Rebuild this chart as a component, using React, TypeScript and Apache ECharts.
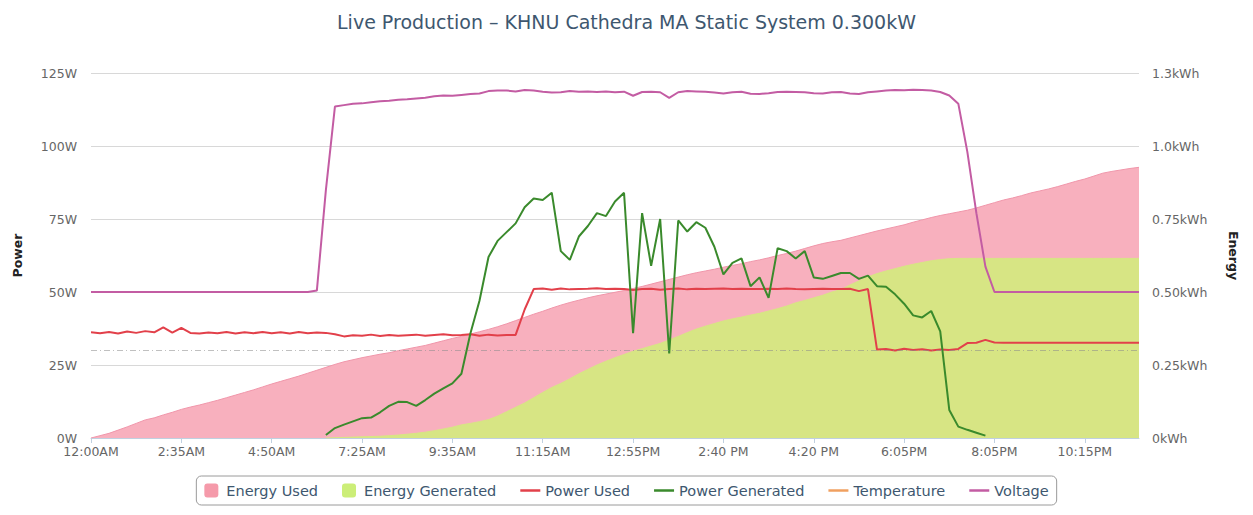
import React, { useEffect, useRef } from 'react';
import * as echarts from 'echarts';

const titleText = 'Live Production \u2013 KHNU Cathedra MA Static System 0.300kW';

const xTickLabels = ['12:00AM', '2:35AM', '4:50AM', '7:25AM', '9:35AM', '11:15AM', '12:55PM', '2:40 PM', '4:20 PM', '6:05PM', '8:05PM', '10:15PM'];
const pointsPerTick = 10;

const powerTickLabels = ['0W', '25W', '50W', '75W', '100W', '125W'];
const energyTickLabels = ['0kWh', '0.25kWh', '0.50kWh', '0.75kWh', '1.0kWh', '1.3kWh'];

const referenceLevel = 30;

const energyUsed = [
  0.0, 0.008, 0.016, 0.027, 0.038, 0.05, 0.062, 0.069, 0.079, 0.088,
  0.098, 0.106, 0.113, 0.121, 0.129, 0.138, 0.147, 0.156, 0.165, 0.175,
  0.185, 0.194, 0.203, 0.212, 0.222, 0.232, 0.242, 0.252, 0.261, 0.268,
  0.275, 0.281, 0.287, 0.292, 0.299, 0.305, 0.311, 0.317, 0.325, 0.333,
  0.341, 0.348, 0.356, 0.364, 0.372, 0.381, 0.391, 0.402, 0.413, 0.424,
  0.434, 0.445, 0.455, 0.464, 0.472, 0.48, 0.487, 0.493, 0.499, 0.505,
  0.512, 0.519, 0.527, 0.535, 0.543, 0.551, 0.559, 0.566, 0.572, 0.578,
  0.585, 0.591, 0.597, 0.604, 0.61, 0.617, 0.625, 0.632, 0.64, 0.649,
  0.658, 0.666, 0.672, 0.677, 0.685, 0.693, 0.701, 0.709, 0.716, 0.723,
  0.73, 0.739, 0.747, 0.755, 0.762, 0.768, 0.774, 0.78, 0.788, 0.797,
  0.806, 0.815, 0.822, 0.83, 0.839, 0.846, 0.853, 0.861, 0.87, 0.879,
  0.887, 0.897, 0.907, 0.913, 0.918, 0.923, 0.927,
];

const energyGenerated = [
  null, null, null, null, null, null, null, null, null, null,
  null, null, null, null, null, null, null, null, null, null,
  null, null, null, null, null, null, 0.0, 0.001, 0.002, 0.003,
  0.004, 0.005, 0.006, 0.008, 0.01, 0.013, 0.016, 0.02, 0.025, 0.031,
  0.037, 0.045, 0.05, 0.056, 0.063, 0.075, 0.09, 0.105, 0.12, 0.138,
  0.156, 0.173, 0.187, 0.203, 0.22, 0.235, 0.25, 0.263, 0.275, 0.286,
  0.297, 0.306, 0.315, 0.324, 0.336, 0.348, 0.361, 0.373, 0.383, 0.392,
  0.401, 0.408, 0.414, 0.421, 0.427, 0.435, 0.443, 0.452, 0.463, 0.471,
  0.48, 0.489, 0.5, 0.508, 0.524, 0.538, 0.552, 0.563, 0.572, 0.58,
  0.588, 0.595, 0.601, 0.607, 0.611, 0.614, 0.615, 0.615, 0.615, 0.615,
  0.615, 0.615, 0.615, 0.615, 0.615, 0.615, 0.615, 0.615, 0.615, 0.615,
  0.615, 0.615, 0.615, 0.615, 0.615, 0.615, 0.615,
];

const powerUsed = [
  36.2, 35.9, 36.3, 35.8, 36.5, 36.0, 36.6, 36.2, 37.9, 36.1,
  37.7, 36.0, 35.8, 36.1, 35.9, 36.3, 35.8, 36.2, 35.9, 36.3,
  35.9, 36.2, 35.8, 36.3, 35.9, 36.1, 36.0, 35.5, 34.8, 35.2,
  35.0, 35.4, 34.9, 35.3, 35.0, 35.2, 35.4, 35.0, 35.3, 35.5,
  35.2, 35.3, 35.5, 35.0, 35.4, 35.1, 35.3, 35.3, 44.0, 51.0,
  51.2, 50.8, 51.2, 50.9, 51.0, 51.1, 51.3, 51.0, 51.1, 51.0,
  50.7, 51.0, 51.1, 50.8, 51.0, 51.2, 50.9, 51.1, 51.0, 51.1,
  51.2, 51.0, 51.1, 51.0, 51.0, 51.1, 51.0, 51.2, 51.0, 50.9,
  51.0, 51.1, 51.0, 51.0, 51.1, 50.3, 51.0, 30.3, 30.5, 30.0,
  30.6, 30.1, 30.4, 30.0, 30.3, 30.1, 30.5, 32.5, 32.6, 33.6,
  32.7, 32.6, 32.6, 32.6, 32.6, 32.6, 32.6, 32.6, 32.6, 32.6,
  32.6, 32.6, 32.6, 32.6, 32.6, 32.6, 32.6,
];

const powerGenerated = [
  null, null, null, null, null, null, null, null, null, null,
  null, null, null, null, null, null, null, null, null, null,
  null, null, null, null, null, null, 1.0, 3.4, 4.6, 5.7,
  6.8, 7.0, 8.8, 11.0, 12.4, 12.3, 11.0, 13.0, 15.2, 17.0,
  18.7, 22.0, 35.9, 47.0, 62.0, 67.5, 70.5, 73.5, 79.0, 82.0,
  81.5, 84.0, 64.0, 61.0, 69.0, 72.6, 77.0, 76.0, 81.0, 84.0,
  35.9, 77.0, 59.0, 75.0, 29.0, 74.5, 70.7, 73.9, 72.0, 65.5,
  56.0, 60.0, 61.5, 52.0, 55.0, 48.0, 65.0, 64.0, 61.5, 64.0,
  55.0, 54.5, 55.5, 56.5, 56.5, 54.5, 55.6, 52.0, 51.8, 49.2,
  46.0, 42.0, 41.3, 43.5, 36.5, 9.6, 3.9, 2.8, 1.8, 0.8,
  null, null, null, null, null, null, null, null, null, null,
  null, null, null, null, null, null, null,
];

const temperature: (number | null)[] = [];

const voltage = [
  50, 50, 50, 50, 50, 50, 50, 50, 50, 50,
  50, 50, 50, 50, 50, 50, 50, 50, 50, 50,
  50, 50, 50, 50, 50, 50.5, 85, 113.5, 114, 114.5,
  114.6, 115, 115.3, 115.5, 115.8, 116, 116.3, 116.5, 117, 117.3,
  117.2, 117.5, 117.8, 118, 118.8, 119, 119, 118.7, 119.2, 119,
  118.6, 118.3, 118.4, 118.8, 118.6, 118.7, 118.5, 118.7, 118.4, 118.6,
  117.2, 118.5, 118.6, 118.4, 116.5, 118.4, 118.8, 118.7, 118.6, 118.3,
  118.0, 118.4, 118.6, 117.9, 117.8, 118.1, 118.5, 118.6, 118.5, 118.4,
  118.1, 118.0, 118.4, 118.5, 118.0, 117.8, 118.4, 118.7, 119.0, 119.2,
  119.1, 119.3, 119.2, 119.0, 118.5, 117.3, 114.5, 98, 77, 58.7,
  50, 50, 50, 50, 50, 50, 50, 50, 50, 50,
  50, 50, 50, 50, 50, 50, 50,
];

const categories = energyUsed.map((_, i) =>
  i % pointsPerTick === 0 ? xTickLabels[i / pointsPerTick] : 't' + i
);

const FONT = '"DejaVu Sans", Verdana, sans-serif';

const colors = {
  energyUsed: '#f8b0be',
  energyUsedLine: '#f096aa',
  energyGenerated: '#d7e584',
  legendEnergyUsed: '#f59aaa',
  legendEnergyGenerated: '#ccee78',
  powerUsed: '#e2404a',
  powerGenerated: '#3a8a2c',
  temperature: '#f0a060',
  voltage: '#c35ca3',
};

const lineIcon = 'path://M0,0 L24,0 L24,3 L0,3 Z';
const squareIcon = 'path://M3,0 L11,0 Q14,0 14,3 L14,11 Q14,14 11,14 L3,14 Q0,14 0,11 L0,3 Q0,0 3,0 Z';

export default function App() {
  const ref = useRef<HTMLDivElement>(null);
  useEffect(() => {
    if (!ref.current) return;
    const chart = echarts.init(ref.current, undefined, { renderer: 'svg' });
    chart.setOption({
      animation: false,
      backgroundColor: '#ffffff',
      title: {
        text: titleText,
        left: 'center',
        top: 7,
        textStyle: { fontFamily: FONT, fontSize: 19, fontWeight: 'normal', color: '#3e576f' },
      },
      legend: {
        left: 'center',
        top: 476,
        padding: [7, 8],
        itemGap: 24,
        itemWidth: 20,
        itemHeight: 14,
        symbolKeepAspect: true,
        borderColor: '#9a9a9a',
        borderWidth: 1,
        borderRadius: 5,
        textStyle: { fontFamily: FONT, fontSize: 14.5, color: '#3e576f' },
        data: [
          { name: 'Energy Used', icon: squareIcon, itemStyle: { color: colors.legendEnergyUsed } },
          { name: 'Energy Generated', icon: squareIcon, itemStyle: { color: colors.legendEnergyGenerated } },
          { name: 'Power Used', icon: lineIcon },
          { name: 'Power Generated', icon: lineIcon },
          { name: 'Temperature', icon: lineIcon },
          { name: 'Voltage', icon: lineIcon },
        ],
      },
      grid: { left: 91, right: 114, top: 73, bottom: 77, containLabel: false },
      xAxis: {
        type: 'category',
        boundaryGap: false,
        data: categories,
        axisLine: { show: true, lineStyle: { color: '#c0d0e0', width: 1 } },
        axisTick: { show: true, interval: pointsPerTick - 1, length: 5, lineStyle: { color: '#c0d0e0' } },
        axisLabel: {
          interval: pointsPerTick - 1,
          fontFamily: FONT,
          fontSize: 12.5,
          color: '#666666',
          margin: 7,
        },
        splitLine: { show: false },
      },
      yAxis: [
        {
          type: 'value',
          min: 0,
          max: 125,
          interval: 25,
          name: 'Power',
          nameLocation: 'middle',
          nameRotate: 90,
          nameGap: 67,
          nameTextStyle: { fontFamily: FONT, fontSize: 12.5, fontWeight: 'bold', color: '#222' },
          axisLine: { show: false },
          axisTick: { show: false },
          axisLabel: {
            fontFamily: FONT,
            fontSize: 12.5,
            color: '#666666',
            margin: 14,
            formatter: (v: number) => powerTickLabels[Math.round(v / 25)] ?? '',
          },
          splitLine: { show: true, lineStyle: { color: '#d8d8d8', width: 1 } },
        },
        {
          type: 'value',
          min: 0,
          max: 1.25,
          interval: 0.25,
          name: 'Energy',
          nameLocation: 'middle',
          nameRotate: -90,
          nameGap: 88,
          nameTextStyle: { fontFamily: FONT, fontSize: 12.5, fontWeight: 'bold', color: '#222' },
          axisLine: { show: false },
          axisTick: { show: false },
          axisLabel: {
            fontFamily: FONT,
            fontSize: 12.5,
            color: '#666666',
            margin: 13,
            formatter: (v: number) => energyTickLabels[Math.round(v / 0.25)] ?? '',
          },
          splitLine: { show: false },
        },
      ],
      series: [
        {
          name: 'Energy Used',
          type: 'line',
          yAxisIndex: 1,
          data: energyUsed,
          symbol: 'none',
          color: colors.energyUsed,
          lineStyle: { color: colors.energyUsedLine, width: 1 },
          areaStyle: { color: colors.energyUsed, opacity: 1 },
          z: 1,
        },
        {
          name: 'Energy Generated',
          type: 'line',
          yAxisIndex: 1,
          data: energyGenerated,
          symbol: 'none',
          color: colors.energyGenerated,
          lineStyle: { color: colors.energyGenerated, width: 1 },
          areaStyle: { color: colors.energyGenerated, opacity: 1 },
          z: 2,
        },
        {
          name: 'Power Used',
          type: 'line',
          yAxisIndex: 0,
          data: powerUsed,
          symbol: 'none',
          color: colors.powerUsed,
          lineStyle: { color: colors.powerUsed, width: 2 },
          markLine: {
            silent: true,
            symbol: 'none',
            label: { show: false },
            lineStyle: { color: 'rgba(140,140,140,0.55)', type: [6, 3, 1, 3], width: 1 },
            data: [{ yAxis: referenceLevel }],
          },
          z: 3,
        },
        {
          name: 'Power Generated',
          type: 'line',
          yAxisIndex: 0,
          data: powerGenerated,
          symbol: 'none',
          color: colors.powerGenerated,
          lineStyle: { color: colors.powerGenerated, width: 2 },
          z: 4,
        },
        {
          name: 'Temperature',
          type: 'line',
          yAxisIndex: 0,
          data: temperature,
          symbol: 'none',
          color: colors.temperature,
          lineStyle: { color: colors.temperature, width: 2 },
          z: 5,
        },
        {
          name: 'Voltage',
          type: 'line',
          yAxisIndex: 0,
          data: voltage,
          symbol: 'none',
          color: colors.voltage,
          lineStyle: { color: colors.voltage, width: 2 },
          z: 6,
        },
      ],
    });
    return () => chart.dispose();
  }, []);
  return (
    <div
      ref={ref}
      style={{ position: 'absolute', left: 0, top: 0, width: 1253, height: 515, background: '#fff' }}
    />
  );
}
